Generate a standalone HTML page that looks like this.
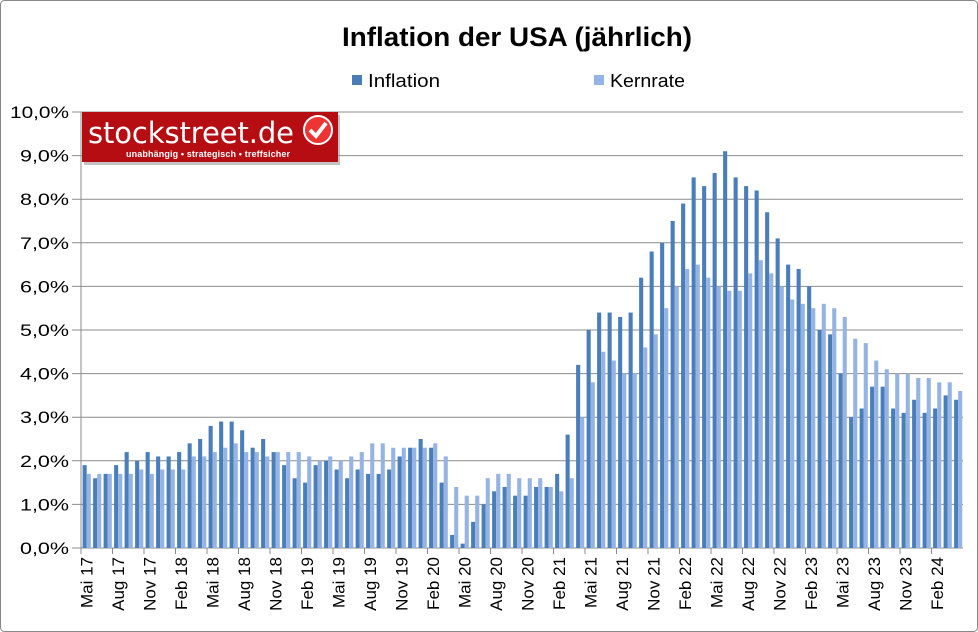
<!DOCTYPE html>
<html><head><meta charset="utf-8"><style>
body{margin:0;background:#fff}
svg{display:block;font-family:"Liberation Sans",Arial,sans-serif}
</style></head><body>
<svg id="s" width="978" height="632" viewBox="0 0 978 632">
<rect x="0.5" y="0.5" width="977" height="631" fill="#fff" stroke="#888" rx="4"/>
<text x="342" y="46" font-size="27" font-weight="bold" textLength="350" lengthAdjust="spacingAndGlyphs">Inflation der USA (jährlich)</text>
<rect x="352" y="75" width="10" height="10" fill="#4a7ebb"/>
<text x="368" y="87" font-size="18" textLength="72" lengthAdjust="spacingAndGlyphs">Inflation</text>
<rect x="594" y="75" width="10" height="10" fill="#95b3e3"/>
<text x="610" y="87" font-size="18" textLength="75" lengthAdjust="spacingAndGlyphs">Kernrate</text>
<g id="g"></g>
<g>
<rect x="84" y="115" width="256" height="50" fill="#888" opacity="0.5"/>
<rect x="82" y="112" width="256" height="50" fill="#b50d12"/>
<text x="88" y="143" font-size="29" fill="#fff" font-family="DejaVu Sans,sans-serif" textLength="206">stockstreet.de</text>
<text x="126" y="157" font-size="9" font-weight="bold" fill="#fff" textLength="164">unabhängig • strategisch • treffsicher</text>
<circle cx="318" cy="130" r="14" fill="#e33" stroke="#fff" stroke-width="2"/>
<path d="M310 130 l6 6 l10 -13" stroke="#fff" stroke-width="4" fill="none"/>
</g>
</svg>
<script>
var inf=[1.9,1.6,1.7,1.9,2.2,2.0,2.2,2.1,2.1,2.2,2.4,2.5,2.8,2.9,2.9,2.7,2.3,2.5,2.2,1.9,1.6,1.5,1.9,2.0,1.8,1.6,1.8,1.7,1.7,1.8,2.1,2.3,2.5,2.3,1.5,0.3,0.1,0.6,1.0,1.3,1.4,1.2,1.2,1.4,1.4,1.7,2.6,4.2,5.0,5.4,5.4,5.3,5.4,6.2,6.8,7.0,7.5,7.9,8.5,8.3,8.6,9.1,8.5,8.3,8.2,7.7,7.1,6.5,6.4,6.0,5.0,4.9,4.0,3.0,3.2,3.7,3.7,3.2,3.1,3.4,3.1,3.2,3.5,3.4];
var core=[1.7,1.7,1.7,1.7,1.7,1.8,1.7,1.8,1.8,1.8,2.1,2.1,2.2,2.3,2.4,2.2,2.2,2.1,2.2,2.2,2.2,2.1,2.0,2.1,2.0,2.1,2.2,2.4,2.4,2.3,2.3,2.3,2.3,2.4,2.1,1.4,1.2,1.2,1.6,1.7,1.7,1.6,1.6,1.6,1.4,1.3,1.6,3.0,3.8,4.5,4.3,4.0,4.0,4.6,4.9,5.5,6.0,6.4,6.5,6.2,6.0,5.9,5.9,6.3,6.6,6.3,6.0,5.7,5.6,5.5,5.6,5.5,5.3,4.8,4.7,4.3,4.1,4.0,4.0,3.9,3.9,3.8,3.8,3.6];
var L=81,B=548,U=43.6,W=10.5,h='';
for(var i=0;i<=10;i++){var y=B-i*U;
h+='<line x1="72" x2="'+(L+84*W)+'" y1="'+y+'" y2="'+y+'" stroke="#8c8c8c"/>';
h+='<text x="69" y="'+(y+6)+'" text-anchor="end" font-size="17" textLength="'+(i==10?59:49)+'" lengthAdjust="spacingAndGlyphs">'+i+',0%</text>';}
for(i=0;i<84;i++){var x=L+i*W;
h+='<rect x="'+(x+1.6)+'" y="'+(B-inf[i]*U)+'" width="4.1" height="'+inf[i]*U+'" fill="#4a7ebb"/>';
h+='<rect x="'+(x+5.7)+'" y="'+(B-core[i]*U)+'" width="4.1" height="'+core[i]*U+'" fill="#95b3e3"/>';}
h+='<line x1="'+L+'" x2="'+L+'" y1="'+(B-10*U)+'" y2="'+B+'" stroke="#8c8c8c"/>';
var m=['Mai','Aug','Nov','Feb'],yr=17;
for(i=0;i<28;i++){var x=L+i*3*W;
h+='<line x1="'+x+'" x2="'+x+'" y1="'+B+'" y2="'+(B+6)+'" stroke="#8c8c8c"/>';
var mm=m[i%4];if(mm=='Feb')yr++;
var cx=x+W/2+6;
h+='<text transform="translate('+cx+',557) rotate(-90)" text-anchor="end" font-size="17">'+mm+' '+yr+'</text>';}
document.getElementById('g').innerHTML=h;
</script>
</body></html>
